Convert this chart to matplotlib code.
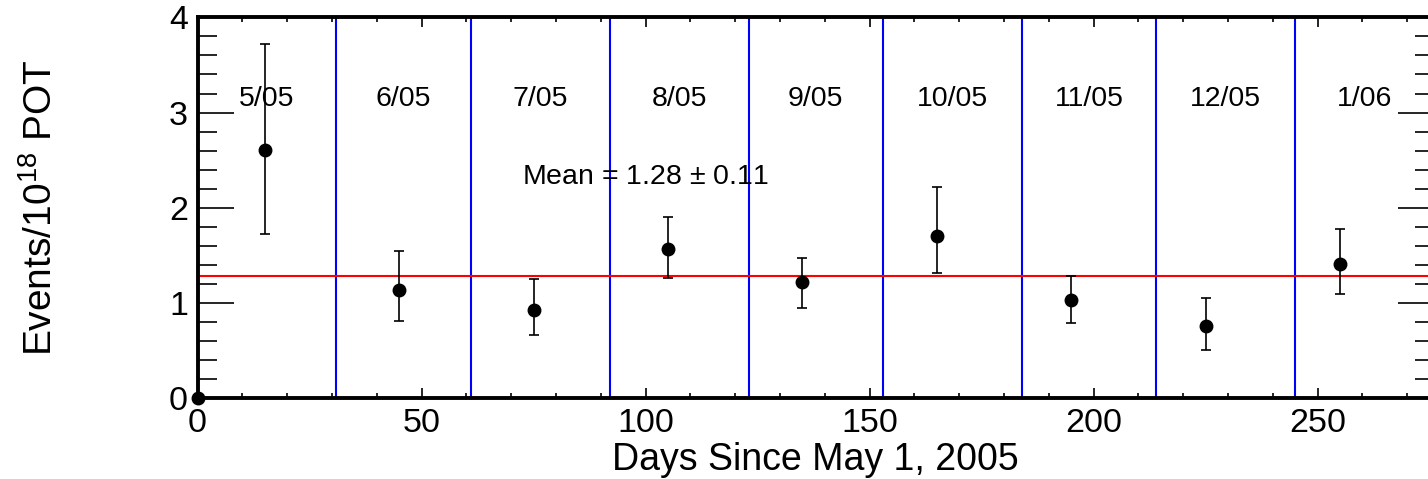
import matplotlib
matplotlib.use("Agg")
import matplotlib.pyplot as plt
import numpy as np
from matplotlib.ticker import MultipleLocator

plt.rcParams["font.family"] = ["Liberation Sans", "DejaVu Sans"]
plt.rcParams["mathtext.fontset"] = "custom"
plt.rcParams["mathtext.rm"] = "Liberation Sans"

# monthly event rate per 1e18 POT, one bin per month
BIN_CENTERS = [15, 45, 75, 105, 135, 165, 195, 225, 255]
RATE = [2.61, 1.14, 0.93, 1.57, 1.22, 1.70, 1.03, 0.76, 1.41]
ERR_LOW = [0.89, 0.33, 0.27, 0.31, 0.27, 0.38, 0.24, 0.25, 0.31]
ERR_HIGH = [1.11, 0.41, 0.32, 0.33, 0.25, 0.52, 0.25, 0.29, 0.37]
MONTH_EDGES = [0, 31, 61, 92, 123, 153, 184, 214, 245, 276]
MONTH_LABELS = ["5/05", "6/05", "7/05", "8/05", "9/05", "10/05", "11/05", "12/05", "1/06"]
MEAN_RATE = 1.28
MEAN_ERR = 0.11

W, H = 1428, 479


def main() -> None:
    fig = plt.figure(figsize=(W / 100, H / 100), dpi=100)
    x0, x1 = 197.5, 1434.0
    y0, y1 = 398.3, 17.3
    ax = fig.add_axes([x0 / W, 1 - y0 / H, (x1 - x0) / W, (y0 - y1) / H])
    ax.set_xlim(MONTH_EDGES[0], MONTH_EDGES[-1])
    ax.set_ylim(0, 4)

    # month boundaries
    for edge in MONTH_EDGES[1:-1]:
        ax.axvline(edge, color="#0000ff", lw=1.5, zorder=1)
    ax.axhline(MEAN_RATE, color="#ff0000", lw=1.5, zorder=1)

    ax.errorbar(BIN_CENTERS, RATE, yerr=[ERR_LOW, ERR_HIGH], fmt="o", color="black",
                ms=9, elinewidth=1.2, capsize=3.5, capthick=1.2, zorder=3)
    ax.plot([0], [0], "o", color="black", ms=9, clip_on=False, zorder=4)

    mids = [(a + b) / 2 for a, b in zip(MONTH_EDGES[:-1], MONTH_EDGES[1:])]
    for xm, label in zip(mids, MONTH_LABELS):
        ax.text(xm, 3.07, label, ha="center", va="baseline", fontsize=20.5)
    ax.text(72.4, 2.25, f"Mean = {MEAN_RATE:.2f} $\\pm$ {MEAN_ERR:.2f}",
            ha="left", va="baseline", fontsize=20.5)

    ax.xaxis.set_major_locator(MultipleLocator(50))
    ax.xaxis.set_minor_locator(MultipleLocator(10))
    ax.yaxis.set_major_locator(MultipleLocator(1))
    ax.yaxis.set_minor_locator(MultipleLocator(0.2))
    ax.tick_params(which="both", direction="in", top=True, right=True, width=1.2,
                   labelsize=24.5, pad=7)
    ax.tick_params(axis="x", which="major", length=7)
    ax.tick_params(axis="x", which="minor", length=3.6)
    ax.tick_params(axis="y", which="major", length=26)
    ax.tick_params(axis="y", which="minor", length=14)
    for spine in ax.spines.values():
        spine.set_linewidth(2.8)

    ax.set_xlabel("Days Since May 1, 2005", fontsize=27)
    ax.xaxis.set_label_coords(0.5, -0.116)
    ax.set_ylabel("Events/10$^{18}$ POT", fontsize=28)
    ax.yaxis.set_label_coords(-0.111, 0.5)

    fig.savefig("out.png", dpi=100, facecolor="white")
    plt.close(fig)


if __name__ == "__main__":
    main()
